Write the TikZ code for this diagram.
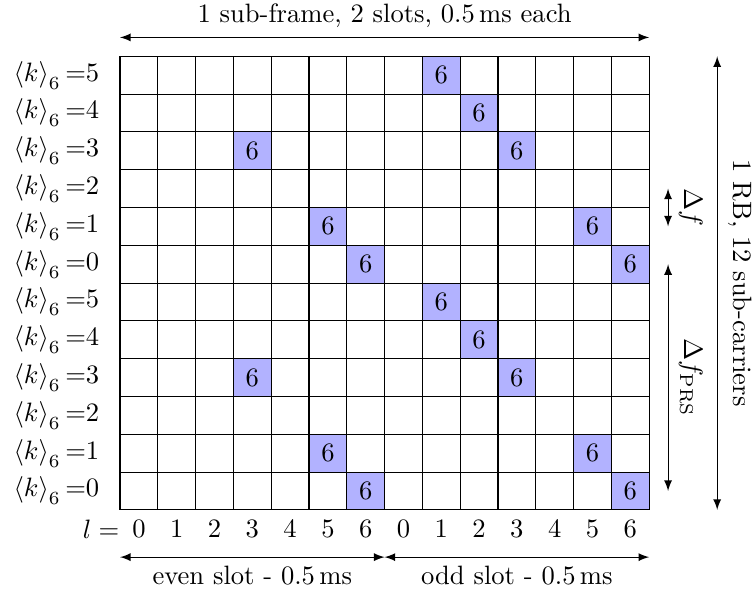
\documentclass[tikz,border=0pt]{standalone}
\begin{document}
\begin{tikzpicture}[
    x=5mm, y=5mm,
    prscell/.style={fill=blue!30},
    dimarrow/.style={<->, >=latex},
    rowlabel/.style={anchor=east},
    sidelabel/.style={rotate=-90}
]
\useasboundingbox (-3.175,-2.222) rectangle (16.8,13.49);

% PRS resource elements
\foreach \c/\r in {8/11,9/10,3/9,10/9,5/7,12/7,6/6,13/6,8/5,9/4,3/3,10/3,5/1,12/1,6/0,13/0}{
  \fill[prscell] (\c,\r) rectangle +(1,1);
  \node (re\c-\r) at (\c+0.5,\r+0.5) {6};
}
\draw[step=5mm] (0,0) grid (14,12);

% sub-carrier and symbol indices
\foreach \r [evaluate=\r as \k using {int(mod(\r,6))}] in {0,...,11}
  \node[rowlabel] (k\r) at (-0.3,\r+0.5) {$\left\langle k\right\rangle_6{=}\k$};
\node (lname) at (-0.5,-0.5) {$l=$};
\foreach \c [evaluate=\c as \l using {int(mod(\c,7))}] in {0,...,13}
  \node (l\c) at (\c+0.5,-0.5) {$\l$};

% time axis
\coordinate (sf0) at (0,12.5);
\coordinate (sf1) at (14,12.5);
\draw[dimarrow] (sf0) -- node[above] (sflabel) {1 sub-frame, 2 slots, 0.5\,ms each} (sf1);
\coordinate (ev0) at (0,-1.25);
\coordinate (ev1) at (7,-1.25);
\coordinate (od1) at (14,-1.25);
\draw[dimarrow] (ev0) -- node[below] (evlabel) {even slot - 0.5\,ms} (ev1);
\draw[dimarrow] (ev1) -- node[below] (odlabel) {odd slot - 0.5\,ms} (od1);

% frequency axis
\coordinate (df0) at (14.5,7.5);
\coordinate (df1) at (14.5,8.5);
\draw[dimarrow] (df0) -- (df1);
\node[sidelabel] (dflabel) at (15.1,8) {$\Delta f$};
\coordinate (dp0) at (14.5,0.5);
\coordinate (dp1) at (14.5,6.5);
\draw[dimarrow] (dp0) -- (dp1);
\node[sidelabel] (dplabel) at (15.1,3.5) {$\Delta f_{\mathrm{PRS}}$};
\coordinate (rb0) at (15.8,0);
\coordinate (rb1) at (15.8,12);
\draw[dimarrow] (rb0) -- (rb1);
\node[sidelabel] (rblabel) at (16.4,6) {1 RB, 12 sub-carriers};

\end{tikzpicture}
\end{document}
